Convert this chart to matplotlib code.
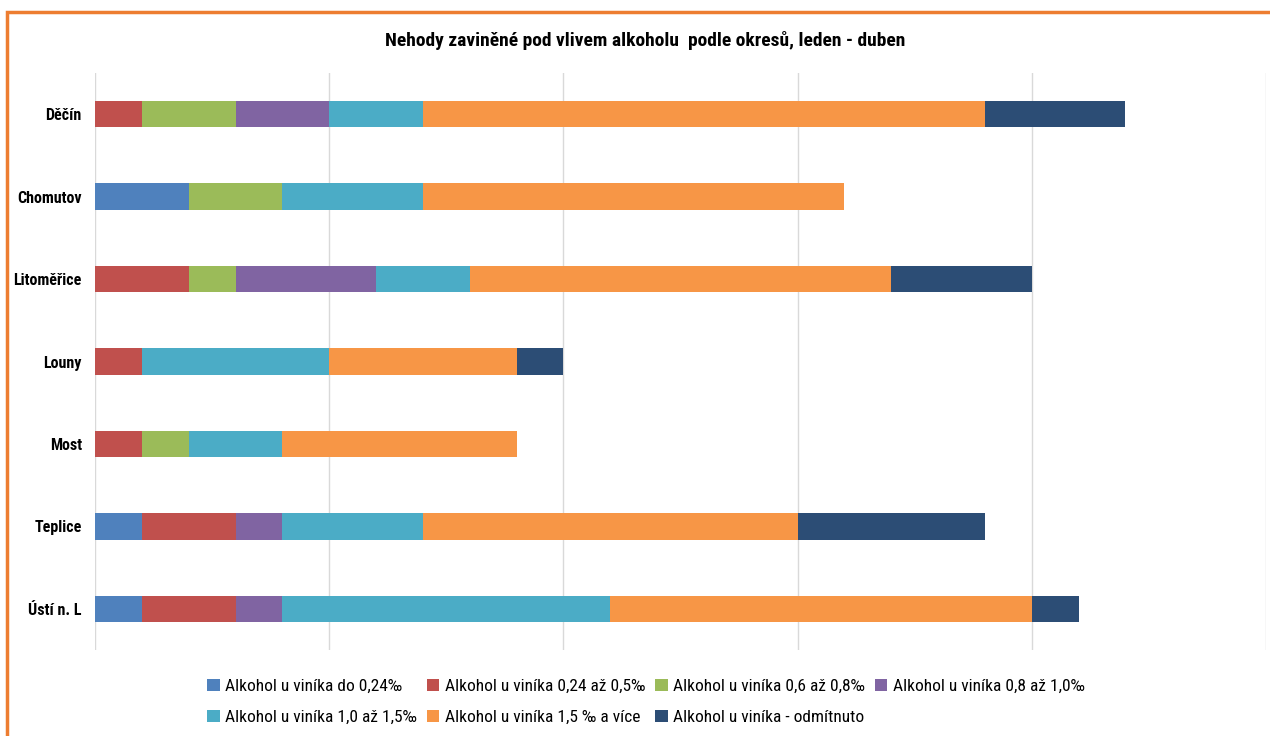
import matplotlib
matplotlib.use("Agg")
import matplotlib.pyplot as plt
from matplotlib.patches import Rectangle
import numpy as np

FAM = ['Roboto Condensed', 'Liberation Sans Narrow', 'Liberation Sans', 'DejaVu Sans']
plt.rcParams['font.family'] = FAM

districts = ["Děčín", "Chomutov", "Litoměřice", "Louny", "Most", "Teplice", "Ústí n. L"]
series_names = [
    "Alkohol u viníka do 0,24‰",
    "Alkohol u viníka 0,24 až 0,5‰",
    "Alkohol u viníka 0,6 až 0,8‰",
    "Alkohol u viníka 0,8 až 1,0‰",
    "Alkohol u viníka 1,0 až 1,5‰",
    "Alkohol u viníka 1,5 ‰ a více",
    "Alkohol u viníka - odmítnuto",
]
do_024 =      [0, 2, 0, 0, 0, 1, 1]
s024_05 =     [1, 0, 2, 1, 1, 2, 2]
s06_08 =      [2, 2, 1, 0, 1, 0, 0]
s08_10 =      [2, 0, 3, 0, 0, 1, 1]
s10_15 =      [2, 3, 2, 4, 2, 3, 7]
s15_more =    [12, 9, 9, 4, 5, 8, 9]
refused =     [3, 0, 3, 1, 0, 4, 1]
series = [do_024, s024_05, s06_08, s08_10, s10_15, s15_more, refused]
colors = ["#4F81BD", "#C0504D", "#9BBB59", "#8064A2", "#4BACC6", "#F79646", "#2C4D75"]

fig = plt.figure(figsize=(12.7, 7.36), dpi=100)
ax = fig.add_axes([95/1270, 1-650/736, (1266-95)/1270, (650-73)/736])

y = np.arange(len(districts))
left = np.zeros(len(districts))
handles = []
for vals, col, name in zip(series, colors, series_names):
    v = np.array(vals, dtype=float)
    h = ax.barh(y, v, left=left, height=0.32, color=col, label=name, zorder=3)
    handles.append(h)
    left += v

ax.set_xlim(0, 25)
ax.set_ylim(6.5, -0.5)
ax.set_xticks([0, 5, 10, 15, 20, 25])
ax.set_xticklabels([])
ax.tick_params(axis='x', length=0)
ax.tick_params(axis='y', length=0, pad=9.5)
ax.set_yticks(y)
ax.set_yticklabels(districts, fontsize=11.5, fontweight='bold')
ax.grid(axis='x', color='#D9D9D9', linewidth=1, zorder=0)
for s in ax.spines.values():
    s.set_visible(False)

fig.text(645/1270, 1-40/736, "Nehody zaviněné pod vlivem alkoholu  podle okresů, leden - duben",
         ha='center', va='center', fontsize=14, fontweight='bold')

order = [0, 4, 1, 5, 2, 6, 3]
leg = fig.legend([handles[i] for i in order], [series_names[i] for i in order],
                 ncol=4, loc='center', bbox_to_anchor=(646/1270, 1-702/736),
                 frameon=False, fontsize=12.5, handlelength=0.7, handleheight=0.7,
                 handletextpad=0.3, columnspacing=0.6, labelspacing=0.9)

fig.patches.append(Rectangle((7/1270, -0.05), 1.1, 1-12/736+0.05, transform=fig.transFigure,
                             fill=False, edgecolor='#ED7D31', linewidth=2.5))

fig.savefig("out.png", dpi=100)
